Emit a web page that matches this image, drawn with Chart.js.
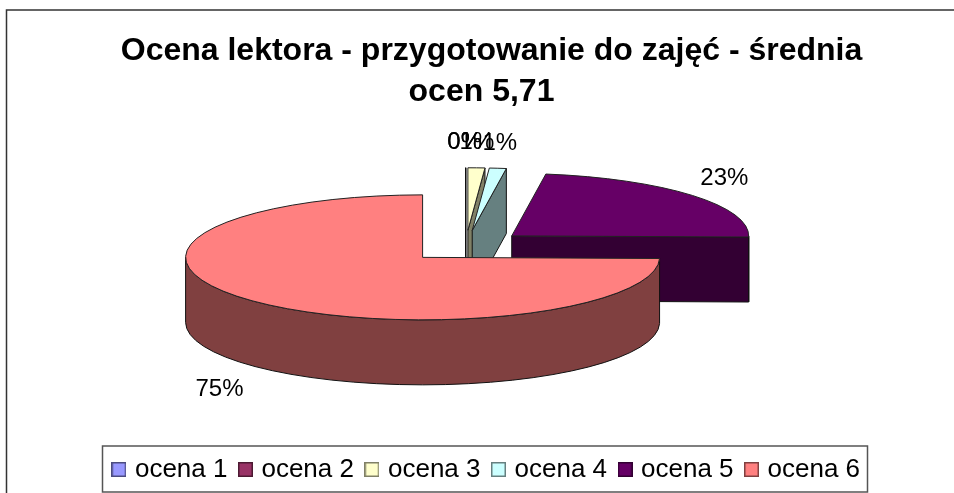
<!DOCTYPE html>
<html><head><meta charset="utf-8">
<style>html,body{margin:0;padding:0;background:#fff}canvas{display:block}</style>
<script src="https://cdn.jsdelivr.net/npm/chart.js@4"></script>
</head><body><canvas id="c" width="954" height="493"></canvas>
<script>
const categories = ['ocena 1','ocena 2','ocena 3','ocena 4','ocena 5','ocena 6'];
const values = [0,0,1,1,20,65];
const titleLine1 = 'Ocena lektora - przygotowanie do zajęć - średnia';
const titleLine2 = 'ocen 5,71';
const topColors = ['#9999FF','#993366','#FFFFCC','#CCFFFF','#660066','#FF8080'];
const wallColors = ['#4C4C80','#4D1A33','#808066','#668080','#330033','#804040'];

// view settings of the tilted, exploded pie
const view = {cx:465.7, cy:246.2, radius:237, tilt:0.2637, depth:65, explode:60.4};
const labelShift = [[-1,-25],[-1,-25],[0.5,-25],[2,-25],[32,-17],[-34,88]];
const FONT = '"Liberation Sans", Arial, sans-serif';
const total = values.reduce((a,b)=>a+b,0);

function apex(arc){
  const mid=(arc.startAngle+arc.endAngle)/2;
  return {x:view.cx+view.explode*Math.cos(mid), y:view.cy+view.explode*view.tilt*Math.sin(mid)};
}
function wall(ctx,arc,color){
  const p=apex(arc), R=arc.outerRadius, ry=R*view.tilt, D=view.depth;
  ctx.fillStyle=color; ctx.strokeStyle='#111'; ctx.lineWidth=1; ctx.lineJoin='round';
  const face=(a)=>{
    const ex=p.x+R*Math.cos(a), ey=p.y+ry*Math.sin(a);
    ctx.beginPath();ctx.moveTo(p.x,p.y);ctx.lineTo(ex,ey);ctx.lineTo(ex,ey+D);ctx.lineTo(p.x,p.y+D);ctx.closePath();
    ctx.fill();ctx.stroke();
  };
  const zero=arc.circumference===0;
  if(!zero && Math.cos(arc.startAngle)<-1e-9) face(arc.startAngle);
  if(zero || Math.cos(arc.endAngle)>1e-9) face(arc.endAngle);
  const a0=Math.max(arc.startAngle,0), a1=Math.min(arc.endAngle,Math.PI);
  if(a1>a0){
    ctx.beginPath();
    ctx.ellipse(p.x,p.y,R,ry,0,a0,a1);
    ctx.ellipse(p.x,p.y+D,R,ry,0,a1,a0,true);
    ctx.closePath();ctx.fill();ctx.stroke();
  }
}
function topFace(ctx,arc){
  const p=apex(arc), R=arc.outerRadius;
  ctx.save();
  ctx.translate(p.x,p.y);ctx.scale(1,view.tilt);ctx.translate(-arc.x,-arc.y);
  arc.draw(ctx);
  ctx.beginPath();
  ctx.moveTo(arc.x,arc.y);
  ctx.arc(arc.x,arc.y,R,arc.startAngle,arc.endAngle);
  ctx.closePath();
  ctx.restore();
  ctx.strokeStyle='#222';ctx.lineWidth=1;ctx.lineJoin='round';
  ctx.stroke();
}
function swatch(i){
  const s=document.createElement('canvas');s.width=15;s.height=15;
  const g=s.getContext('2d');
  g.fillStyle=topColors[i];g.fillRect(0,0,15,15);
  g.strokeStyle=wallColors[i];g.lineWidth=1.5;g.strokeRect(0.75,0.75,13.5,13.5);
  return s;
}
const pie3d={
  id:'pie3d',
  afterLayout(chart){
    const shift=(box,center,top)=>{
      const d=center-(box.left+box.right)/2;
      box.left+=d;box.right+=d;
      const h=box.bottom-box.top;box.top=top;box.bottom=top+h;
    };
    shift(chart.titleBlock,491.5,32);
    const sub=chart.boxes.find(b=>b!==chart.titleBlock&&b.options&&b.options.text===titleLine2);
    if(sub) shift(sub,481.5,72.5);
    shift(chart.legend,488,441.5);
  },
  beforeDraw(chart){
    const c=chart.ctx;
    c.save();
    c.strokeStyle='#333';c.lineWidth=1.5;
    c.beginPath();c.moveTo(954,10);c.lineTo(6.5,10);c.lineTo(6.5,493);c.stroke();
    c.strokeStyle='#555';c.lineWidth=1.5;
    c.strokeRect(102.5,446,765,46);
    c.restore();
  },
  beforeDatasetDraw(chart,args){
    const c=chart.ctx, arcs=args.meta.data;
    c.save();
    arcs.forEach((arc,i)=>{
      wall(c,arc,wallColors[i]);
      if(arc.circumference>0) topFace(c,arc);
    });
    c.fillStyle='#000';c.font='24px '+FONT;c.textAlign='center';c.textBaseline='middle';
    arcs.forEach((arc,i)=>{
      const p=apex(arc), mid=(arc.startAngle+arc.endAngle)/2, R=arc.outerRadius;
      c.fillText(Math.round(values[i]/total*100)+'%', p.x+R*Math.cos(mid)+labelShift[i][0], p.y+R*view.tilt*Math.sin(mid)+labelShift[i][1]);
    });
    c.restore();
    return false;
  }
};
new Chart(document.getElementById('c'),{
  type:'pie',
  plugins:[pie3d],
  data:{labels:categories,datasets:[{data:values,backgroundColor:topColors,borderColor:wallColors,borderWidth:0}]},
  options:{
    responsive:false,animation:false,radius:view.radius,
    events:[],
    plugins:{
      tooltip:{enabled:false},
      title:{display:true,text:titleLine1,color:'#000',font:{family:FONT,size:32,weight:'bold'},padding:0},
      subtitle:{display:true,text:titleLine2,color:'#000',font:{family:FONT,size:32,weight:'bold'},padding:0},
      legend:{display:true,position:'bottom',labels:{
        color:'#000',font:{family:FONT,size:26},usePointStyle:true,pointStyleWidth:6,boxHeight:14,padding:15,
        generateLabels(chart){
          return categories.map((t,i)=>({text:t,fillStyle:topColors[i],strokeStyle:wallColors[i],lineWidth:1.5,pointStyle:swatch(i),index:i,hidden:false,fontColor:'#000'}));
        }
      }}
    }
  }
});
</script></body></html>
